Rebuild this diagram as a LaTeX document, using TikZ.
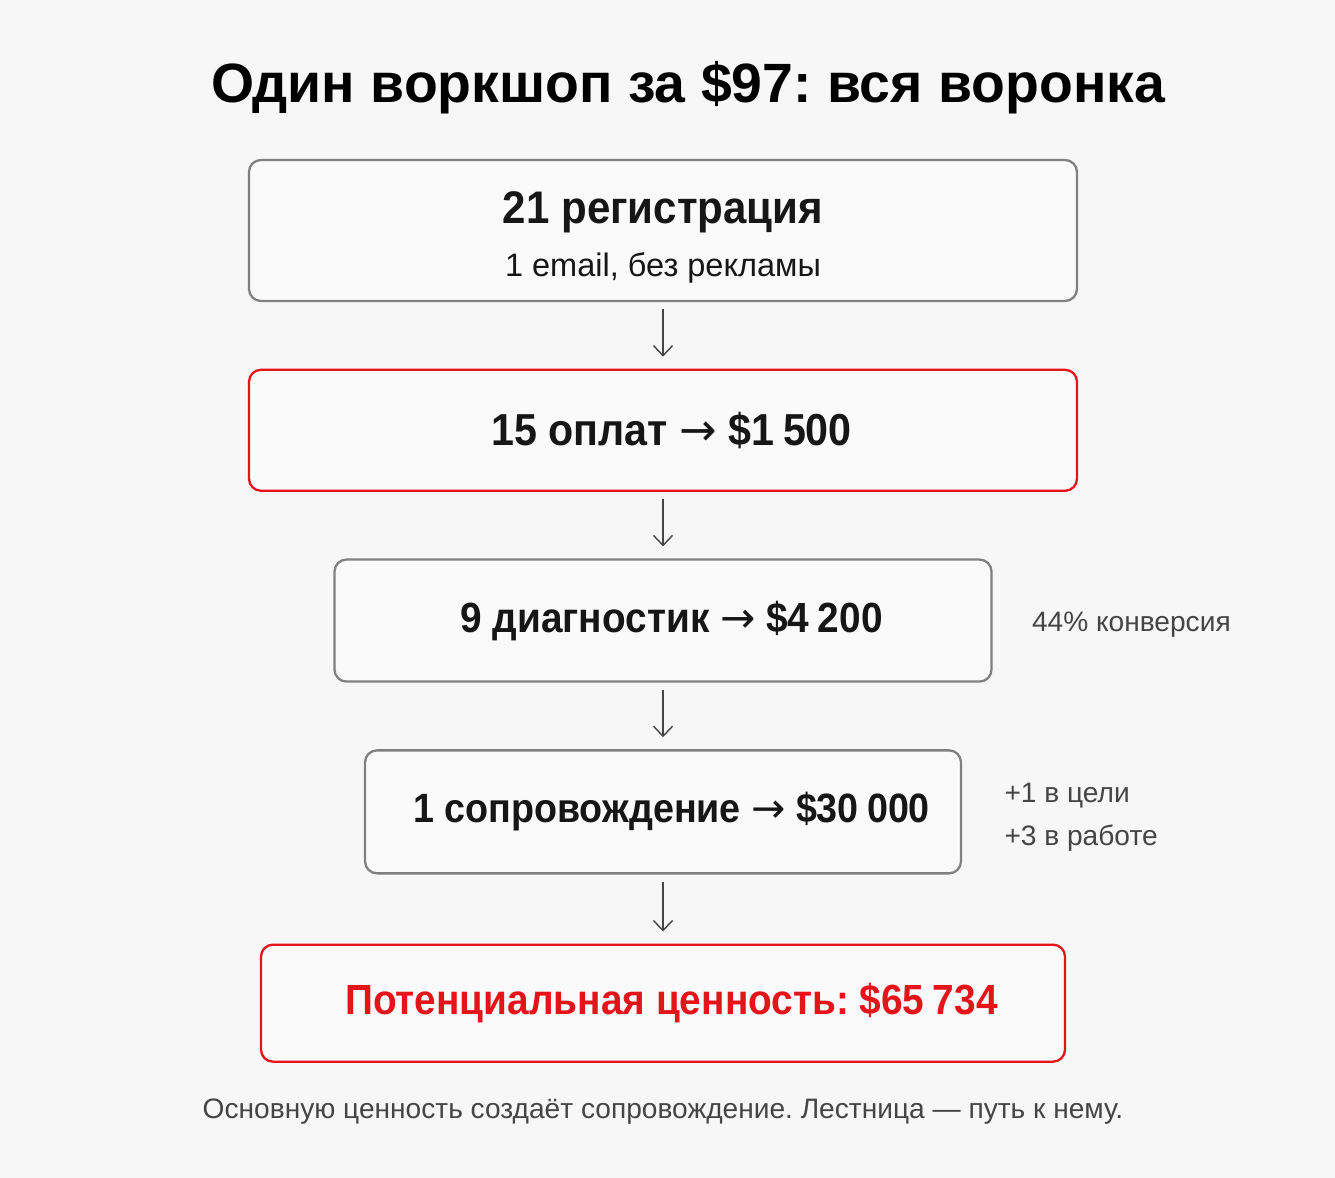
\documentclass[tikz,border=0pt]{standalone}
\usepackage{fontspec}
\setmainfont{Liberation Sans}
\newfontfamily\narrowfont{Liberation Sans}[FakeStretch=0.92]
\newfontfamily\arrowfont{DejaVu Sans}
\usetikzlibrary{positioning,arrows.meta}
\definecolor{bgcol}{HTML}{F7F7F7}
\definecolor{boxfill}{HTML}{FAFAFA}
\definecolor{boxgray}{HTML}{808080}
\definecolor{funred}{HTML}{E5141B}
\definecolor{inkcol}{HTML}{161616}
\definecolor{notecol}{HTML}{454545}
\newcommand{\tto}{{\arrowfont\mdseries→}}
\newcommand{\gsp}{\hspace{0.2em}}
\frenchspacing

\begin{document}
\begin{tikzpicture}[auto, node distance=1.33cm, >={Straight Barb[length=2mm,width=3.8mm]}]
    \tikzset{stage/.style={draw=boxgray, line width=1.3pt, rounded corners=0.24cm, fill=boxfill, text=inkcol, minimum height=2.44cm, align=center, font={\fontsize{24pt}{30pt}\selectfont\narrowfont\bfseries}},
             hot/.style={stage, draw=funred},
             nudged/.style={execute at begin node={\hspace*{0.34cm}}},
             note/.style={text=notecol, align=left, inner sep=0pt, font={\fontsize{16pt}{24.5pt}\selectfont}},
             flow/.style={->, draw=notecol, line width=0.8pt, shorten >=0.24cm, shorten <=0.14cm}}
    \useasboundingbox[fill=bgcol] (0,0) rectangle (26.7,-23.56);
    \node [inner sep=0pt, text=black, font={\fontsize{31.5pt}{38pt}\selectfont\bfseries}] (ttl) at (13.76,-1.76) {Один воркшоп за \$97: вся воронка};
    \node [stage, minimum width=16.56cm, minimum height=2.82cm] (reg) at (13.26,-4.61) {\rule{0pt}{26pt}{\fontsize{26pt}{30pt}\selectfont 21 регистрация}\\{\normalfont\fontsize{18.5pt}{20pt}\selectfont 1 email, без рекламы}};
    \node [hot, nudged, below=of reg, minimum width=16.56cm, minimum height=2.42cm, font={\fontsize{25.5pt}{30pt}\selectfont\narrowfont\bfseries}] (pay) {15 оплат \tto{} \$1\gsp500};
    \node [stage, nudged, below=of pay, minimum width=13.14cm] (diag) {9 диагностик \tto{} \$4\gsp200};
    \node [stage, nudged, below=of diag, minimum width=11.92cm, minimum height=2.46cm, font={\fontsize{23.3pt}{30pt}\selectfont\narrowfont\bfseries}] (sup) {1 сопровождение \tto{} \$30\gsp000};
    \node [hot, nudged, below=1.38cm of sup, minimum width=16.08cm, minimum height=2.34cm, text=funred] (pot) {Потенциальная ценность: \$65\gsp734};
    \node [note, right=0.78cm of diag, yshift=-0.09cm] (conv) {44\% конверсия};
    \node [note, right=0.84cm of sup, yshift=-0.1cm] (more) {+1 в цели\\+3 в работе};
    \node [below=0.72cm of pot, inner sep=0pt, text=notecol, font={\fontsize{16pt}{20pt}\selectfont}] (foot) {Основную ценность создаёт сопровождение. Лестница — путь к нему.};
    \draw [flow] (reg) -- (pay);
    \draw [flow] (pay) -- (diag);
    \draw [flow] (diag) -- (sup);
    \draw [flow] (sup) -- (pot);
\end{tikzpicture}
\end{document}
